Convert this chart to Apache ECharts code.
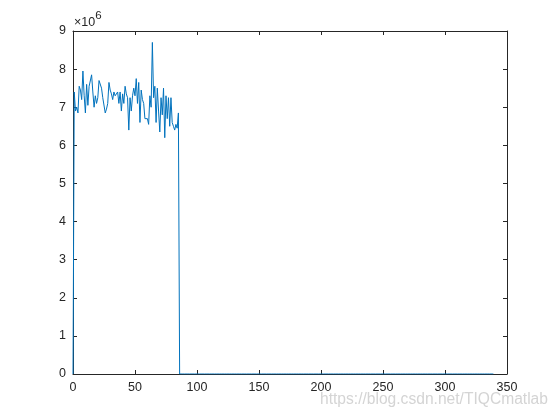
<!DOCTYPE html>
<html>
<head>
<meta charset="utf-8">
<script src="https://cdn.jsdelivr.net/npm/echarts@6/dist/echarts.min.js"></script>
<style>html,body{margin:0;padding:0;background:#fff}#c{width:560px;height:420px}</style>
</head>
<body>
<div id="c"></div>
<script>
// values in units of 10^6, index 0..85 ; beyond that zeros up to lastIndex
var activeValuesE6 = [0,
 7.4, 6.9, 7.0, 6.85, 7.55, 7.45, 7.2, 7.95, 7.3, 6.85,
 7.6, 7.05, 7.55, 7.5, 7.85, 7.4, 7.0, 7.3, 7.1, 7.25,
 7.7, 7.75, 7.5, 7.25, 7.2, 6.85, 6.95, 7.1, 7.65, 7.45,
 7.35, 7.2, 7.4, 7.3, 7.25, 7.4, 7.1, 7.4, 6.9, 7.35,
 7.1, 7.55, 7.35, 7.25, 6.4, 7.25, 6.9, 7.3, 7.5, 7.3,
 7.75, 7.1, 7.65, 6.6, 7.45, 7.2, 7.1, 6.7, 6.65, 6.7,
 6.55, 7.3, 7.0, 8.7, 7.25, 7.55, 6.6, 7.5, 6.9, 6.35,
 7.25, 6.8, 7.5, 6.2, 7.3, 6.7, 7.25, 6.5, 7.25, 6.6,
 6.5, 6.4, 6.55, 6.45, 6.85];
var lastIndex = 339;
var xTicks = [0, 50, 100, 150, 200, 250, 300, 350];
var yTicks = [0, 1, 2, 3, 4, 5, 6, 7, 8, 9];
var exponentLabel = '6';
var watermark = 'https://blog.csdn.net/TIQCmatlab';

var data = [];
for (var i = 0; i <= lastIndex; i++) {
  data.push([i, i < activeValuesE6.length ? activeValuesE6[i] : 0]);
}

var axisColor = '#262626';
var font = 'Liberation Sans, Arial, Helvetica, sans-serif';
function baseAxis(extra) {
  var o = {
    type: 'value',
    axisLine: {show: true, onZero: false, lineStyle: {color: axisColor, width: 1}},
    axisTick: {show: true, inside: true, length: 4, lineStyle: {color: axisColor, width: 1}},
    splitLine: {show: false},
    axisLabel: {color: axisColor, fontSize: 12.5, fontFamily: font}
  };
  for (var k in extra) o[k] = extra[k];
  return o;
}
var chart = echarts.init(document.getElementById('c'), null, {renderer: 'canvas'});
chart.setOption({
  animation: false,
  backgroundColor: '#fff',
  grid: {left: 73, right: 53, top: 31, bottom: 46, containLabel: false},
  xAxis: [
    baseAxis({min: xTicks[0], max: xTicks[xTicks.length - 1], interval: 50, position: 'bottom',
      axisLabel: {color: axisColor, fontSize: 12.5, fontFamily: font, margin: 7}}),
    baseAxis({min: xTicks[0], max: xTicks[xTicks.length - 1], interval: 50, position: 'top',
      axisLabel: {show: false}})
  ],
  yAxis: [
    baseAxis({min: yTicks[0], max: yTicks[yTicks.length - 1], interval: 1, position: 'left',
      axisLabel: {color: axisColor, fontSize: 12.5, fontFamily: font, margin: 7}}),
    baseAxis({min: yTicks[0], max: yTicks[yTicks.length - 1], interval: 1, position: 'right',
      axisLabel: {show: false}})
  ],
  graphic: [
    {type: 'text', left: 74, top: 10,
     style: {text: '{a|×10}{b|' + exponentLabel + '}',
       rich: {a: {fontSize: 12.5, fontFamily: font, fill: axisColor, padding: [6, 0, 0, 0]},
              b: {fontSize: 11.5, fontFamily: font, fill: axisColor, verticalAlign: 'top', padding: [0, 0, 6, 0]}}}},
    {type: 'text', left: 320, top: 392,
     style: {text: watermark, fontSize: 15.6, fontFamily: font, fill: 'rgb(212,212,212)'}}
  ],
  series: [{
    type: 'line',
    data: data,
    showSymbol: false,
    symbol: 'none',
    lineStyle: {color: '#0072BD', width: 1},
    xAxisIndex: 0, yAxisIndex: 0
  }]
});
</script>
</body>
</html>
